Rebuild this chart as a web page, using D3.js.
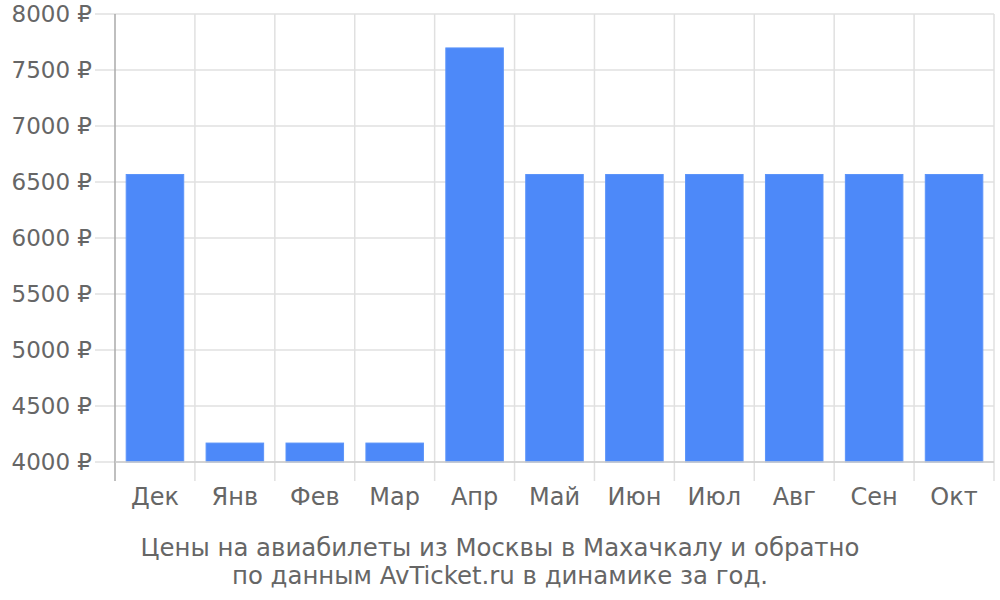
<!DOCTYPE html>
<html>
<head>
<meta charset="utf-8">
<script src="https://cdn.jsdelivr.net/npm/d3@7"></script>
<style>
  body { margin: 0; background: #fff; }
  text { font-family: "DejaVu Sans", sans-serif; fill: #666; }
</style>
</head>
<body>
<script>
const months = ["Дек", "Янв", "Фев", "Мар", "Апр", "Май", "Июн", "Июл", "Авг", "Сен", "Окт"];
const prices = [6567, 4169, 4169, 4169, 7697, 6567, 6567, 6567, 6567, 6567, 6567];
const yTicks = [4000, 4500, 5000, 5500, 6000, 6500, 7000, 7500, 8000];
const titleLines = ["Цены на авиабилеты из Москвы в Махачкалу и обратно", "по данным AvTicket.ru в динамике за год."];

const width = 1000;
const height = 600;
const margin = { left: 115, right: 6, top: 14, bottom: 138 };

const svg = d3.select("body")
    .append("svg")
    .attr("width", width)
    .attr("height", height);

const x = d3.scaleBand()
    .domain(months)
    .range([margin.left, width - margin.right])
    .paddingInner(0.28)
    .paddingOuter(0.14);

const y = d3.scaleLinear()
    .domain([4000, 8000])
    .range([height - margin.bottom, margin.top]);

// horizontal grid
svg.selectAll(".hgrid")
    .data(yTicks)
    .enter().append("line")
    .attr("x1", margin.left - 20)
    .attr("x2", width - margin.right)
    .attr("y1", d => y(d))
    .attr("y2", d => y(d))
    .attr("stroke", "#e0e0e0")
    .attr("stroke-width", 1.5);

// vertical grid at band edges
const step = x.step();
const edges = months.map((m, i) => margin.left + step * (i + 1));
svg.selectAll(".vgrid")
    .data(edges)
    .enter().append("line")
    .attr("x1", d => d)
    .attr("x2", d => d)
    .attr("y1", margin.top)
    .attr("y2", height - margin.bottom + 19)
    .attr("stroke", "#e0e0e0")
    .attr("stroke-width", 1.5);

// y labels
svg.selectAll(".ylab")
    .data(yTicks)
    .enter().append("text")
    .attr("x", margin.left - 23)
    .attr("y", d => y(d))
    .attr("dy", "0.36em")
    .attr("text-anchor", "end")
    .style("font-size", "23px")
    .text(d => d + " ₽");

// bars
svg.selectAll(".bar")
    .data(prices)
    .enter().append("rect")
    .attr("x", (d, i) => x(months[i]))
    .attr("y", d => y(d))
    .attr("width", x.bandwidth())
    .attr("height", d => y(4000) - y(d))
    .attr("fill", "#4d89f9")
    .attr("stroke", "#5c94f9")
    .attr("stroke-width", 1);

// axes lines
svg.append("line")
    .attr("x1", margin.left)
    .attr("x2", margin.left)
    .attr("y1", margin.top)
    .attr("y2", height - margin.bottom + 19)
    .attr("stroke", "#aaa")
    .attr("stroke-width", 1.5);

svg.append("line")
    .attr("x1", margin.left)
    .attr("x2", width - margin.right)
    .attr("y1", y(4000))
    .attr("y2", y(4000))
    .attr("stroke", "#ccc")
    .attr("stroke-width", 1.5);

// x labels
svg.selectAll(".xlab")
    .data(months)
    .enter().append("text")
    .attr("x", d => x(d) + x.bandwidth() / 2)
    .attr("y", height - margin.bottom + 43)
    .attr("text-anchor", "middle")
    .style("font-size", "24px")
    .text(d => d);

// title
svg.selectAll(".title")
    .data(titleLines)
    .enter().append("text")
    .attr("x", 500)
    .attr("y", (d, i) => 556 + i * 28)
    .attr("text-anchor", "middle")
    .style("font-size", "24.4px")
    .text(d => d);
</script>
</body>
</html>
